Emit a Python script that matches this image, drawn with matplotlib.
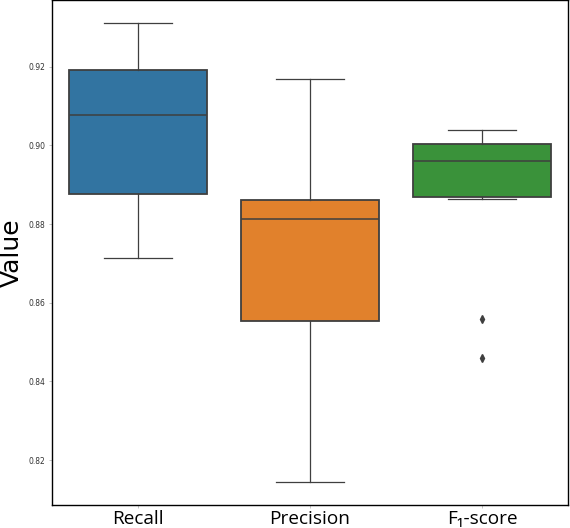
import matplotlib
matplotlib.use("Agg")
import matplotlib.pyplot as plt

categories = ["Recall", "Precision", "F\u2081-score"]
whislo = [0.8714, 0.8144, 0.8863]
q1 = [0.8876, 0.8553, 0.8868]
med = [0.9076, 0.8813, 0.8960]
q3 = [0.9191, 0.8861, 0.9004]
whishi = [0.9310, 0.9169, 0.9039]
fliers = [[], [], [0.8558, 0.8459]]
colors = ["#3274a1", "#e1812c", "#3a923a"]
yticks = [0.82, 0.84, 0.86, 0.88, 0.90, 0.92]

fig = plt.figure(figsize=(5.7, 5.28), dpi=100)
ax = fig.add_axes([52/570, 23/528, 516/570, 505/528])

stats = []
for i, c in enumerate(categories):
    stats.append(dict(label=c, whislo=whislo[i], q1=q1[i], med=med[i],
                      q3=q3[i], whishi=whishi[i], fliers=fliers[i]))

lc = "#3f3f3f"
bp = ax.bxp(stats, positions=range(3), widths=0.8, patch_artist=True,
            boxprops=dict(edgecolor=lc, linewidth=1.3),
            medianprops=dict(color=lc, linewidth=1.1),
            whiskerprops=dict(color=lc, linewidth=0.9),
            capprops=dict(color=lc, linewidth=0.9),
            flierprops=dict(marker="d", markerfacecolor=lc, markeredgecolor=lc,
                            markersize=4))
for patch, col in zip(bp["boxes"], colors):
    patch.set_facecolor(col)

ax.set_xlim(-0.5, 2.5)
ax.set_ylim(0.80856, 0.93696)
ax.set_yticks(yticks)
ax.set_yticklabels([f"{v:.2f}" for v in yticks], fontsize=5.5, color="#333333")
ax.set_xticks(range(3))
ax.set_xticklabels(categories, fontsize=13.7, family=["Open Sans", "DejaVu Sans"])
ax.tick_params(axis="x", length=2, width=0.6, color="#bbbbbb", pad=1.5)
ax.tick_params(axis="y", length=2, width=0.6, color="#bbbbbb", pad=3)
ax.set_ylabel("Value", fontsize=18, labelpad=3)
for s in ax.spines.values():
    s.set_linewidth(1.0)

fig.savefig("out.png", dpi=100)
